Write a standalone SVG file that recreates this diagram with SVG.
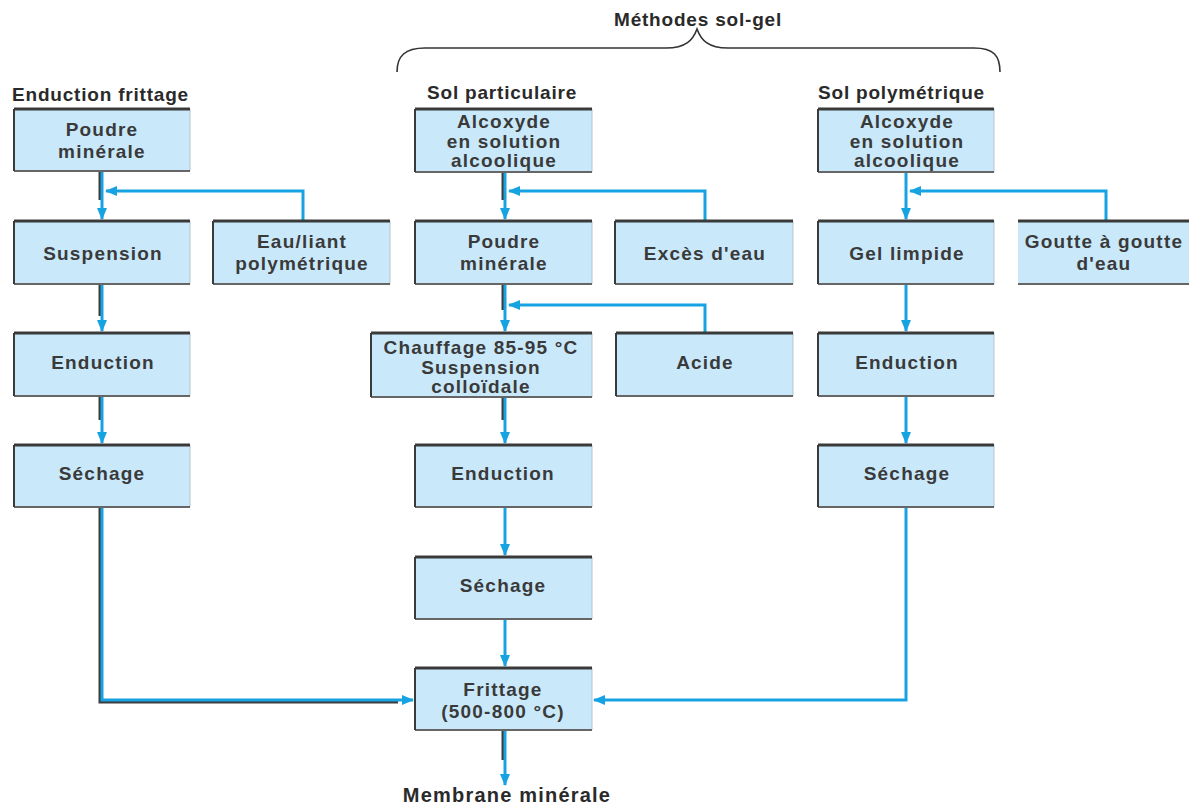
<svg xmlns="http://www.w3.org/2000/svg" width="1195" height="805" viewBox="0 0 1195 805">
<style>
.box{fill:#c9e9fa;stroke:none}
.bt{fill:none;stroke:#3a3a3a;stroke-width:3}
.bl{fill:none;stroke:#3a3a3a;stroke-width:2}
.bb{fill:none;stroke:#666;stroke-width:2}
.br{fill:none;stroke:#b5c5cc;stroke-width:1}
.t{font-family:"Liberation Sans",Arial,sans-serif;font-weight:bold;font-size:19px;fill:#3a3a3a;text-anchor:middle;letter-spacing:1.2px}
.h{font-family:"Liberation Sans",Arial,sans-serif;font-weight:bold;font-size:19px;fill:#2a2a2a;letter-spacing:0.8px}
.c{fill:none;stroke:#17a2e2;stroke-width:3}
.s{fill:none;stroke:#3c3c3c;stroke-width:3}
.brace{fill:none;stroke:#333;stroke-width:1.6}
</style>
<defs>
<marker id="ah" markerUnits="userSpaceOnUse" markerWidth="12" markerHeight="10" refX="11" refY="5" orient="auto">
<path d="M0,0 L12,5 L0,10 Z" fill="#17a2e2"/>
</marker>
</defs>

<g id="headers">
<text class="h" x="12" y="101">Enduction frittage</text>
<text class="h" x="427" y="99">Sol particulaire</text>
<text class="h" x="818" y="99">Sol polymétrique</text>
<text class="h" x="698" y="26" text-anchor="middle">Méthodes sol-gel</text>
<path class="brace" d="M397,72 C397,56 405,48 425,48 L666,48 C686,48 693,40 697,29 C701,40 708,48 728,48 L974,48 C994,48 1000,56 1000,72"/>
<text class="h" x="507" y="802" text-anchor="middle" style="font-size:20px;letter-spacing:1.2px">Membrane minérale</text>
</g>

<g id="connectors">
<path class="s" d="M100,171 V200 M100,284 V316 M100,396 V420 M100,507 V702 H398"/>
<path class="s" d="M503,172 V200 M503,284 V310 M503,397 V420 M503,730 V760"/>
<path class="c" d="M102,171 V219" marker-end="url(#ah)"/>
<path class="c" d="M303,221 V191 H106" marker-end="url(#ah)"/>
<path class="c" d="M102,284 V331" marker-end="url(#ah)"/>
<path class="c" d="M102,396 V443" marker-end="url(#ah)"/>
<path class="c" d="M102,507 V700 H413" marker-end="url(#ah)"/>
<path class="c" d="M505,172 V219" marker-end="url(#ah)"/>
<path class="c" d="M705,221 V191 H509" marker-end="url(#ah)"/>
<path class="c" d="M505,284 V331" marker-end="url(#ah)"/>
<path class="c" d="M705,333 V305 H509" marker-end="url(#ah)"/>
<path class="c" d="M505,397 V443" marker-end="url(#ah)"/>
<path class="c" d="M505,507 V555" marker-end="url(#ah)"/>
<path class="c" d="M505,619 V666" marker-end="url(#ah)"/>
<path class="c" d="M505,730 V785" marker-end="url(#ah)"/>
<path class="c" d="M906,172 V219" marker-end="url(#ah)"/>
<path class="c" d="M1106,221 V191 H910" marker-end="url(#ah)"/>
<path class="c" d="M906,284 V331" marker-end="url(#ah)"/>
<path class="c" d="M906,396 V443" marker-end="url(#ah)"/>
<path class="c" d="M906,507 V700 H594" marker-end="url(#ah)"/>
</g>

<g id="L1"><rect class="box" x="14" y="109" width="176" height="62"/><path class="br" d="M190,109 V171"/><path class="bb" d="M14,171 H190"/><path class="bl" d="M14,171 V109"/><path class="bt" d="M14,109 H190"/>
<text class="t" x="102" y="136">Poudre</text><text class="t" x="102" y="158">minérale</text></g>
<g id="L2"><rect class="box" x="14" y="221" width="176" height="63"/><path class="br" d="M190,221 V284"/><path class="bb" d="M14,284 H190"/><path class="bl" d="M14,284 V221"/><path class="bt" d="M14,221 H190"/>
<text class="t" x="103" y="260">Suspension</text></g>
<g id="L3"><rect class="box" x="213" y="221" width="177" height="63"/><path class="br" d="M390,221 V284"/><path class="bb" d="M213,284 H390"/><path class="bl" d="M213,284 V221"/><path class="bt" d="M213,221 H390"/>
<text class="t" x="302" y="248">Eau/liant</text><text class="t" x="302" y="270">polymétrique</text></g>
<g id="L4"><rect class="box" x="14" y="333" width="176" height="63"/><path class="br" d="M190,333 V396"/><path class="bb" d="M14,396 H190"/><path class="bl" d="M14,396 V333"/><path class="bt" d="M14,333 H190"/>
<text class="t" x="103" y="369">Enduction</text></g>
<g id="L5"><rect class="box" x="14" y="445" width="176" height="62"/><path class="br" d="M190,445 V507"/><path class="bb" d="M14,507 H190"/><path class="bl" d="M14,507 V445"/><path class="bt" d="M14,445 H190"/>
<text class="t" x="102" y="480">Séchage</text></g>

<g id="M1"><rect class="box" x="415" y="109" width="177" height="63"/><path class="br" d="M592,109 V172"/><path class="bb" d="M415,172 H592"/><path class="bl" d="M415,172 V109"/><path class="bt" d="M415,109 H592"/>
<text class="t" x="504" y="128">Alcoxyde</text><text class="t" x="504" y="148">en solution</text><text class="t" x="504" y="167">alcoolique</text></g>
<g id="M2"><rect class="box" x="415" y="221" width="177" height="63"/><path class="br" d="M592,221 V284"/><path class="bb" d="M415,284 H592"/><path class="bl" d="M415,284 V221"/><path class="bt" d="M415,221 H592"/>
<text class="t" x="504" y="248">Poudre</text><text class="t" x="504" y="270">minérale</text></g>
<g id="M3"><rect class="box" x="615" y="221" width="178" height="63"/><path class="br" d="M793,221 V284"/><path class="bb" d="M615,284 H793"/><path class="bl" d="M615,284 V221"/><path class="bt" d="M615,221 H793"/>
<text class="t" x="705" y="260">Excès d'eau</text></g>
<g id="M4"><rect class="box" x="371" y="333" width="221" height="64"/><path class="br" d="M592,333 V397"/><path class="bb" d="M371,397 H592"/><path class="bl" d="M371,397 V333"/><path class="bt" d="M371,333 H592"/>
<text class="t" x="481" y="354">Chauffage 85-95 °C</text><text class="t" x="481" y="374">Suspension</text><text class="t" x="481" y="393">colloïdale</text></g>
<g id="M5"><rect class="box" x="616" y="333" width="177" height="63"/><path class="br" d="M793,333 V396"/><path class="bb" d="M616,396 H793"/><path class="bl" d="M616,396 V333"/><path class="bt" d="M616,333 H793"/>
<text class="t" x="705" y="369">Acide</text></g>
<g id="M6"><rect class="box" x="415" y="445" width="177" height="62"/><path class="br" d="M592,445 V507"/><path class="bb" d="M415,507 H592"/><path class="bl" d="M415,507 V445"/><path class="bt" d="M415,445 H592"/>
<text class="t" x="503" y="480">Enduction</text></g>
<g id="M7"><rect class="box" x="415" y="557" width="177" height="62"/><path class="br" d="M592,557 V619"/><path class="bb" d="M415,619 H592"/><path class="bl" d="M415,619 V557"/><path class="bt" d="M415,557 H592"/>
<text class="t" x="503" y="592">Séchage</text></g>
<g id="M8"><rect class="box" x="415" y="668" width="177" height="62"/><path class="br" d="M592,668 V730"/><path class="bb" d="M415,730 H592"/><path class="bl" d="M415,730 V668"/><path class="bt" d="M415,668 H592"/>
<text class="t" x="503" y="696">Frittage</text><text class="t" x="503" y="718">(500-800 °C)</text></g>

<g id="R1"><rect class="box" x="818" y="109" width="176" height="63"/><path class="br" d="M994,109 V172"/><path class="bb" d="M818,172 H994"/><path class="bl" d="M818,172 V109"/><path class="bt" d="M818,109 H994"/>
<text class="t" x="907" y="128">Alcoxyde</text><text class="t" x="907" y="148">en solution</text><text class="t" x="907" y="167">alcoolique</text></g>
<g id="R2"><rect class="box" x="818" y="221" width="176" height="63"/><path class="br" d="M994,221 V284"/><path class="bb" d="M818,284 H994"/><path class="bl" d="M818,284 V221"/><path class="bt" d="M818,221 H994"/>
<text class="t" x="907" y="260">Gel limpide</text></g>
<g id="R3"><rect class="box" x="1018" y="221" width="171" height="63"/><path class="bb" d="M1018,284 H1189"/><path class="bt" d="M1018,221 H1189"/>
<text class="t" x="1104" y="248">Goutte à goutte</text><text class="t" x="1104" y="270">d'eau</text></g>
<g id="R4"><rect class="box" x="818" y="333" width="176" height="63"/><path class="br" d="M994,333 V396"/><path class="bb" d="M818,396 H994"/><path class="bl" d="M818,396 V333"/><path class="bt" d="M818,333 H994"/>
<text class="t" x="907" y="369">Enduction</text></g>
<g id="R5"><rect class="box" x="818" y="445" width="176" height="62"/><path class="br" d="M994,445 V507"/><path class="bb" d="M818,507 H994"/><path class="bl" d="M818,507 V445"/><path class="bt" d="M818,445 H994"/>
<text class="t" x="907" y="480">Séchage</text></g>
</svg>
